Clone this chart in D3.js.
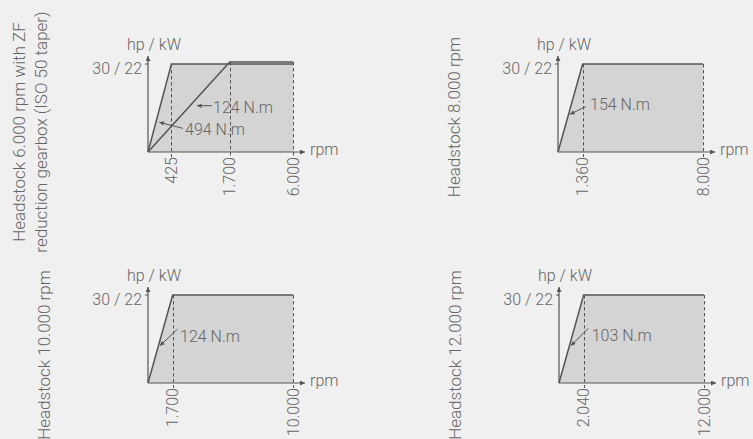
<!DOCTYPE html>
<html>
<head>
<meta charset="utf-8">
<script src="https://cdn.jsdelivr.net/npm/d3@7"></script>
<style>
  body { margin: 0; background: #f0f0f0; }
  svg { display: block; font-family: "Roboto", sans-serif; font-weight: 300; }
</style>
</head>
<body>
<div id="chart"></div>
<script>
var width = 753, height = 439;

// chart data
var panelTitles = [
  ["Headstock 6.000 rpm with ZF", "reduction gearbox (ISO 50 taper)"],
  ["Headstock 8.000 rpm"],
  ["Headstock 10.000 rpm"],
  ["Headstock 12.000 rpm"]
];
var maxRpm = [6000, 8000, 10000, 12000];
var maxRpmLabels = ["6.000", "8.000", "10.000", "12.000"];
var baseRpm = [[425, 1700], [1360], [1700], [2040]];
var baseRpmLabels = [["425", "1.700"], ["1.360"], ["1.700"], ["2.040"]];
var torqueLabels = [["494 N.m", "124 N.m"], ["154 N.m"], ["124 N.m"], ["103 N.m"]];
var ratedHp = [[30, 30.7], [30], [30], [30]];
var powerTickHp = 30;
var powerTickLabel = "30 / 22";

// layout
var plotW = 145, plotH = 88;
var origins = [[148, 152], [558, 152], [148, 383], [559, 383]];
var titleSpots = [[25, 132], [460, 117], [50, 355], [461, 355]];
var lineGap = 22;
// panel 1 is drawn as a sketch, not to scale
var sketchStops = [0, 23.4, 81.7, plotW];
// annotation layout per curve: text [x, y], arrow [x1, y1, x2, y2] relative to origin
var notes = [
  [{t: [37, -17], a: [34.7, -23.7, 11.3, -29.7]}, {t: [65, -39.3], a: [64, -46.3, 49, -46.3]}],
  [{t: [32, -42], a: [27.7, -45.3, 12, -37.7]}],
  [{t: [32, -41.3], a: [29.3, -53.7, 12, -37.3]}],
  [{t: [32.7, -42.3], a: [29.3, -54.7, 12, -37.3]}]
];

var lineCol = "#555", textCol = "#666", fillCol = "#d4d4d4";

var svg = d3.select("#chart").append("svg")
    .attr("width", width)
    .attr("height", height)
    .style("background-color", "#f0f0f0");

var defs = svg.append("defs");
defs.append("marker")
    .attr("id", "head")
    .attr("viewBox", "0 0 10 10")
    .attr("refX", 10).attr("refY", 5)
    .attr("markerWidth", 6).attr("markerHeight", 5)
    .attr("markerUnits", "userSpaceOnUse")
    .attr("orient", "auto")
  .append("path")
    .attr("d", "M0,0 L10,5 L0,10 Z")
    .attr("fill", lineCol);
defs.append("marker")
    .attr("id", "small")
    .attr("viewBox", "0 0 10 10")
    .attr("refX", 10).attr("refY", 5)
    .attr("markerWidth", 6).attr("markerHeight", 4.5)
    .attr("markerUnits", "userSpaceOnUse")
    .attr("orient", "auto")
  .append("path")
    .attr("d", "M0,0 L10,5 L0,10 Z")
    .attr("fill", lineCol);

maxRpm.forEach(function(mx, i) {
  var g = svg.append("g")
      .attr("transform", "translate(" + origins[i][0] + "," + origins[i][1] + ")");

  var x;
  if (i == 0) {
    x = d3.scaleLinear().domain([0].concat(baseRpm[i], [mx])).range(sketchStops);
  } else {
    x = d3.scaleLinear().domain([0, mx]).range([0, plotW]);
  }
  var y = d3.scaleLinear().domain([0, powerTickHp]).range([0, -plotH]);

  // curves: origin -> rated speed -> max speed
  var curves = baseRpm[i].map(function(r, k) {
    return [[0, 0], [r, ratedHp[i][k]], [mx, ratedHp[i][k]]];
  });
  var line = d3.line().x(function(d) { return x(d[0]); }).y(function(d) { return y(d[1]); });

  // filled area under the first (steepest) curve
  g.append("path")
      .attr("d", line(curves[0].concat([[mx, 0]])) + "Z")
      .attr("fill", fillCol);

  // dashed verticals
  var ticks = baseRpm[i].concat([mx]);
  var tickLabs = baseRpmLabels[i].concat([maxRpmLabels[i]]);
  var tops = baseRpm[i].map(function(r, k) { return ratedHp[i][k]; });
  tops.push(d3.max(ratedHp[i]));
  g.selectAll(".dash").data(ticks).enter().append("line")
      .attr("x1", function(d) { return Math.round(x(d)) + 0.5; })
      .attr("x2", function(d) { return Math.round(x(d)) + 0.5; })
      .attr("y1", function(d, k) { return y(tops[k]); })
      .attr("y2", 5)
      .attr("stroke", lineCol)
      .attr("stroke-width", 1)
      .attr("stroke-dasharray", "3.5,2.5");

  // curves
  g.selectAll(".curve").data(curves).enter().append("path")
      .attr("d", line)
      .attr("fill", "none")
      .attr("stroke", lineCol)
      .attr("stroke-width", 1.5);

  // axes
  g.append("line")
      .attr("x1", 0).attr("y1", 0).attr("x2", 0).attr("y2", y(powerTickHp) - 8)
      .attr("stroke", lineCol).attr("stroke-width", 1.2)
      .attr("marker-end", "url(#head)");
  g.append("line")
      .attr("x1", 0).attr("y1", 0).attr("x2", plotW + 12).attr("y2", 0)
      .attr("stroke", lineCol).attr("stroke-width", 1.2)
      .attr("marker-end", "url(#head)");
  g.append("line")
      .attr("x1", -3).attr("x2", 0)
      .attr("y1", y(powerTickHp)).attr("y2", y(powerTickHp))
      .attr("stroke", lineCol).attr("stroke-width", 1);

  // axis labels
  g.append("text")
      .attr("x", 6).attr("y", y(powerTickHp) - 14)
      .attr("text-anchor", "middle")
      .attr("fill", textCol).style("font-size", "16px")
      .text("hp / kW");
  g.append("text")
      .attr("x", -6).attr("y", y(powerTickHp) + 10)
      .attr("text-anchor", "end")
      .attr("fill", textCol).style("font-size", "16px")
      .text(powerTickLabel);
  g.append("text")
      .attr("x", plotW + 17).attr("y", 3)
      .attr("fill", textCol).style("font-size", "16px")
      .text("rpm");

  // rotated tick labels
  g.selectAll(".tick").data(ticks).enter().append("text")
      .attr("transform", function(d) { return "translate(" + x(d) + ",5) rotate(-90)"; })
      .attr("text-anchor", "end")
      .attr("dy", "0.35em")
      .attr("fill", textCol).style("font-size", "16px")
      .text(function(d, k) { return tickLabs[k]; });

  // torque annotations
  torqueLabels[i].forEach(function(lab, k) {
    var n = notes[i][k];
    g.append("line")
        .attr("x1", n.a[0]).attr("y1", n.a[1]).attr("x2", n.a[2]).attr("y2", n.a[3])
        .attr("stroke", lineCol).attr("stroke-width", 1)
        .attr("marker-end", "url(#small)");
    g.append("text")
        .attr("x", n.t[0]).attr("y", n.t[1])
        .attr("fill", textCol).style("font-size", "16px")
        .text(lab);
  });

  // side title
  var tt = svg.append("text")
      .attr("transform", "translate(" + titleSpots[i][0] + "," + titleSpots[i][1] + ") rotate(-90)")
      .attr("text-anchor", "middle")
      .attr("fill", textCol).style("font-size", "17px");
  panelTitles[i].forEach(function(s, k) {
    tt.append("tspan").attr("x", 0).attr("y", k * lineGap).text(s);
  });
});
</script>
</body>
</html>
